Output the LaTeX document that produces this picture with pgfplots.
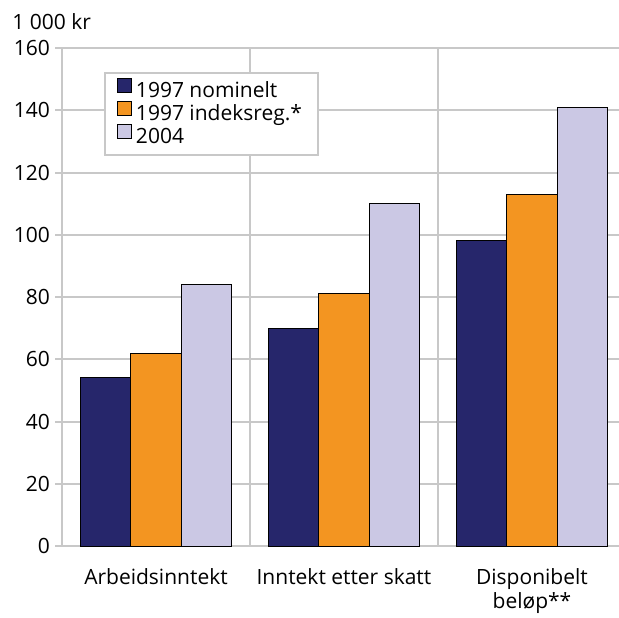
\documentclass[border=0pt]{standalone}
\usepackage{pgfplots}
\pgfplotsset{compat=1.18}
\usepackage{fontspec}
\setmainfont{Open Sans}
\definecolor{mork}{HTML}{26266B}
\definecolor{oransje}{HTML}{F39521}
\definecolor{lilla}{HTML}{CBC8E4}
\definecolor{rutenett}{HTML}{C8C8C8}
\begin{document}
\begin{tikzpicture}[font=\fontsize{10.5}{12}\selectfont]
\begin{axis}[
  scale only axis, width=278.5pt, height=249pt,
  ybar=0pt, bar width=0.2686,
  xmin=-0.5, xmax=2.463, ymin=0, ymax=160,
  ytick={0,20,...,160},
  xtick={0,1,2},
  xticklabels={Arbeidsinntekt, Inntekt etter skatt, {Disponibelt\\beløp**}},
  xticklabel style={align=center, yshift=-4pt},
  xtick style={draw=none},
  extra x ticks={-0.5,0.5,1.5},
  extra x tick labels={},
  extra x tick style={grid=major, tick style={draw=rutenett, line width=1pt}, major tick length=4pt},
  ymajorgrids,
  grid style={draw=rutenett, line width=1pt},
  ytick style={draw=rutenett, line width=1pt},
  tick align=outside, major tick length=3.5pt,
  axis x line*=bottom, axis y line*=left,
  axis line style={draw=rutenett, line width=1pt},
  /pgf/number format/assume math mode=true,
  yticklabel style={xshift=1pt},
  legend cell align=left,
  legend style={at={(0.0754,0.952)}, anchor=north west, draw=rutenett, line width=1pt,
    inner xsep=6pt, inner ysep=2.5pt, row sep=-2pt,
    /tikz/every even column/.append style={column sep=1pt}},
  legend image code/.code={\draw[#1, line width=0.5pt] (0pt,-0.5pt) rectangle (7pt,6.5pt);},
]
\addplot[fill=mork, draw=black, line width=0.5pt] coordinates {(0,54) (1,70) (2,98)};
\addplot[fill=oransje, draw=black, line width=0.5pt] coordinates {(0,62) (1,81) (2,113)};
\addplot[fill=lilla, draw=black, line width=0.5pt] coordinates {(0,84) (1,110) (2,141)};
\legend{1997 nominelt, 1997 indeksreg.*, 2004}
\coordinate (sw) at (rel axis cs:0,0);
\coordinate (ne) at (rel axis cs:1,1);
\end{axis}
\path (sw |- ne) ++(-25pt,9.5pt) node[anchor=base west, inner sep=0pt] {1 000 kr};
\pgfresetboundingbox
\path ([xshift=-31pt, yshift=-35.5pt]sw) rectangle ([yshift=24pt]ne);
\end{tikzpicture}
\end{document}
